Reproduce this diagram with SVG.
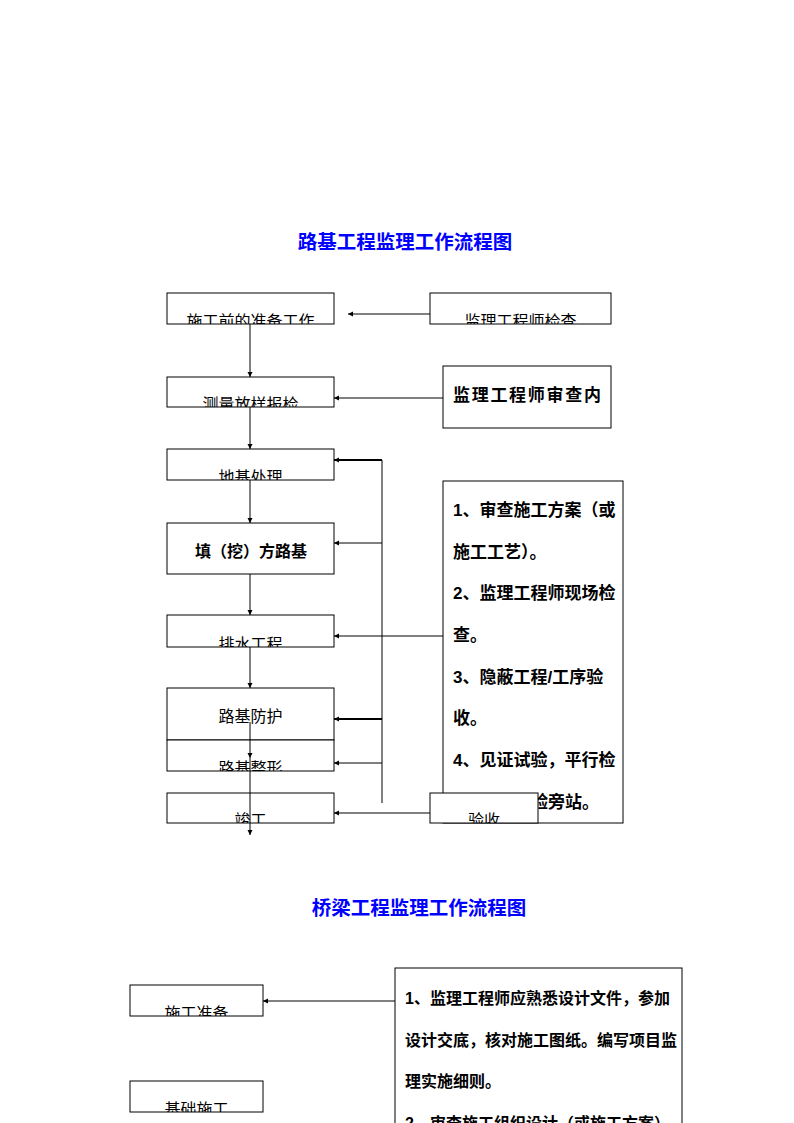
<svg xmlns="http://www.w3.org/2000/svg" width="794" height="1123" viewBox="0 0 794 1123">
<style>
.bg{fill:#fff}
.box{fill:#fff;stroke:#000;stroke-width:1}
.t{font-family:"Noto Sans CJK SC","Liberation Sans",sans-serif;font-size:16px;fill:#000}
.c{text-anchor:middle}
.b{font-weight:bold}
.r{font-family:"Liberation Sans","Noto Sans CJK SC",sans-serif;font-size:17px;font-weight:bold;fill:#000}
.r2{font-family:"Liberation Sans","Noto Sans CJK SC",sans-serif;font-size:16px;font-weight:bold;fill:#000}
.title{font-family:"Noto Sans CJK SC",sans-serif;font-size:19.5px;font-weight:bold;fill:#0000ff;text-anchor:middle}
.ln{fill:none;stroke:#000;stroke-width:1}
.thick{stroke-width:2}
</style>
<defs>
<marker id="ah" markerUnits="userSpaceOnUse" markerWidth="6" markerHeight="6" refX="5" refY="3" orient="auto">
<path d="M0,0.5 L5,3 L0,5.5 z" fill="#000"/>
</marker>
<clipPath id="k1"><rect x="167" y="293" width="167" height="31"/></clipPath>
<clipPath id="k2"><rect x="430" y="293" width="181" height="31"/></clipPath>
<clipPath id="k3"><rect x="167" y="377" width="167" height="30"/></clipPath>
<clipPath id="k5"><rect x="167" y="449" width="167" height="31"/></clipPath>
<clipPath id="k7"><rect x="167" y="615" width="167" height="32"/></clipPath>
<clipPath id="k9"><rect x="167" y="740" width="167" height="31"/></clipPath>
<clipPath id="k10"><rect x="167" y="793" width="167" height="30"/></clipPath>
<clipPath id="k12"><rect x="430" y="793" width="108" height="30"/></clipPath>
<clipPath id="kb1"><rect x="130" y="985" width="133" height="31"/></clipPath>
<clipPath id="kb2"><rect x="130" y="1081" width="133" height="31"/></clipPath>
</defs>
<rect class="bg" x="0" y="0" width="794" height="1123"/>

<text class="title" x="405" y="249">路基工程监理工作流程图</text>
<text class="title" x="419" y="915">桥梁工程监理工作流程图</text>

<g id="n1"><rect class="box" x="167" y="293" width="167" height="31"/><text class="t c" x="250.5" y="326.5" clip-path="url(#k1)">施工前的准备工作</text></g>
<g id="n2"><rect class="box" x="430" y="293" width="181" height="31"/><text class="t c" x="520.5" y="326.5" clip-path="url(#k2)">监理工程师检查</text></g>
<g id="n3"><rect class="box" x="167" y="377" width="167" height="30"/><text class="t c" x="250.5" y="409.5" clip-path="url(#k3)">测量放样报检</text></g>
<g id="n4"><rect class="box" x="443" y="366" width="168" height="62"/><text class="t b" x="453" y="401" style="font-size:17px;letter-spacing:1.7px">监理工程师审查内</text></g>
<g id="n5"><rect class="box" x="167" y="449" width="167" height="31"/><text class="t c" x="250.5" y="482.5" clip-path="url(#k5)">地基处理</text></g>
<g id="n6"><rect class="box" x="167" y="523" width="167" height="51"/><text class="t c b" x="251" y="557">填（挖）方路基</text></g>
<g id="n7"><rect class="box" x="167" y="615" width="167" height="32"/><text class="t c" x="250.5" y="649.5" clip-path="url(#k7)">排水工程</text></g>
<g id="n8"><rect class="box" x="167" y="688" width="167" height="52"/><text class="t c" x="250.5" y="722">路基防护</text></g>
<g id="n9"><rect class="box" x="167" y="740" width="167" height="31"/><text class="t c" x="250.5" y="773.5" clip-path="url(#k9)">路基整形</text></g>
<g id="n10"><rect class="box" x="167" y="793" width="167" height="30"/><text class="t c" x="250.5" y="825.5" clip-path="url(#k10)">竣工</text></g>
<g id="n11"><rect class="box" x="443" y="481" width="180" height="342"/>
<text class="r" x="453" y="516">1、审查施工方案（或</text>
<text class="r" x="453" y="557.5">施工工艺）。</text>
<text class="r" x="453" y="599">2、监理工程师现场检</text>
<text class="r" x="453" y="641">查。</text>
<text class="r" x="453" y="682.5">3、隐蔽工程/工序验</text>
<text class="r" x="453" y="724">收。</text>
<text class="r" x="453" y="766">4、见证试验，平行检</text>
<text class="r" y="807.5"><tspan x="503">关</tspan><tspan x="531">验旁站。</tspan></text>
</g>
<g id="n12"><rect class="box" x="430" y="793" width="108" height="30"/><text class="t c" x="484" y="825.5" clip-path="url(#k12)">验收</text></g>

<g id="b1"><rect class="box" x="130" y="985" width="133" height="31"/><text class="t c" x="196.5" y="1018.5" clip-path="url(#kb1)">施工准备</text></g>
<g id="b2"><rect class="box" x="130" y="1081" width="133" height="31"/><text class="t c" x="196.5" y="1114.5" clip-path="url(#kb2)">基础施工</text></g>
<g id="b3"><rect class="box" x="395" y="968" width="287" height="170"/>
<text class="r2" x="405" y="1004">1、监理工程师应熟悉设计文件，参加</text>
<text class="r2" x="405" y="1045.5">设计交底，核对施工图纸。编写项目监</text>
<text class="r2" x="405" y="1087">理实施细则。</text>
<text class="r2" x="405" y="1129">2、审查施工组织设计（或施工方案）</text>
</g>

<g id="connectors">
<path class="ln" d="M430,314 H348" marker-end="url(#ah)"/>
<path class="ln" d="M250,324 V377" marker-end="url(#ah)"/>
<path class="ln" d="M443,398 H334" marker-end="url(#ah)"/>
<path class="ln" d="M250,407 V449" marker-end="url(#ah)"/>
<path class="ln" d="M250,480 V523" marker-end="url(#ah)"/>
<path class="ln" d="M250,574 V615" marker-end="url(#ah)"/>
<path class="ln" d="M250,647 V688" marker-end="url(#ah)"/>
<path class="ln" d="M250,722 V758" marker-end="url(#ah)"/>
<path class="ln" d="M250,758 V835" marker-end="url(#ah)"/>
<path class="ln" d="M382,460 V803"/>
<path class="ln thick" d="M382,460 H334" marker-end="url(#ah)"/>
<path class="ln" d="M382,543 H334" marker-end="url(#ah)"/>
<path class="ln thick" d="M382,719 H334" marker-end="url(#ah)"/>
<path class="ln" d="M382,763 H334" marker-end="url(#ah)"/>
<path class="ln" d="M443,636 H334" marker-end="url(#ah)"/>
<path class="ln" d="M430,813 H334" marker-end="url(#ah)"/>
<path class="ln" d="M395,1001 H263" marker-end="url(#ah)"/>
</g>
</svg>
